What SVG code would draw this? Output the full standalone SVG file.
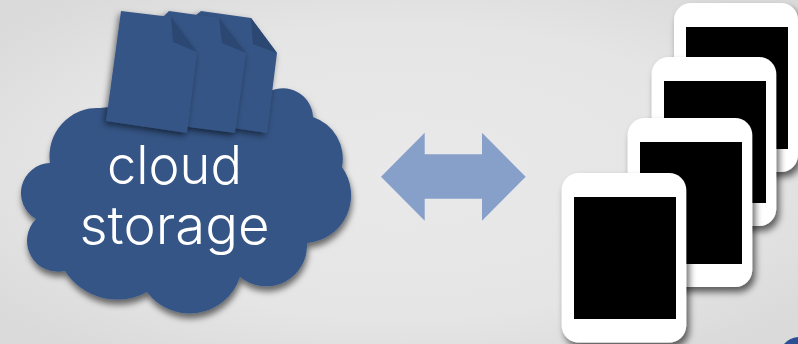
<svg xmlns="http://www.w3.org/2000/svg" width="798" height="344" viewBox="0 0 798 344">
<defs>
<radialGradient id="bg" cx="50%" cy="50%" r="65%"><stop offset="0" stop-color="#e9e9e9"/><stop offset="0.65" stop-color="#e5e5e5"/><stop offset="1" stop-color="#dadada"/></radialGradient>
<filter id="sh" x="-15%" y="-15%" width="135%" height="135%"><feDropShadow dx="3" dy="5" stdDeviation="3.500" flood-color="#000" flood-opacity="0.6"/></filter>
<filter id="shc" x="-15%" y="-15%" width="135%" height="135%"><feDropShadow dx="1" dy="5" stdDeviation="3" flood-color="#000" flood-opacity="0.55"/></filter>
<filter id="sh2" x="-15%" y="-15%" width="135%" height="135%"><feDropShadow dx="-2" dy="3" stdDeviation="3" flood-color="#000" flood-opacity="0.5"/></filter>
</defs>
<style>
.blue{fill:#355586}
.fold{fill:#2b4772}
.case{fill:#fff;filter:url(#sh)}
.screen{fill:#000}
.label{font-family:"Inter","Liberation Sans",sans-serif;font-weight:300;font-size:53px;fill:#fff;text-anchor:middle}
</style>
<rect width="798" height="344" fill="url(#bg)"/>
<path d="M784 344Q789 338 798 337V344Z" fill="#2a4f95"/>
<g id="cloud">
<path class="blue" filter="url(#shc)" d="M50 163A48 48 0 0 1 100 108L273 90A30 30 0 0 1 313 117A44 44 0 0 1 342 167A48 48 0 0 1 307 243A41 41 0 0 1 240 277A53 53 0 0 1 147 292A62 62 0 0 1 65 271A31 31 0 0 1 36 219A30 30 0 0 1 50 163Z"/>
<text class="label" x="174.500" y="184" textLength="135" lengthAdjust="spacingAndGlyphs">cloud</text>
<text class="label" x="174.500" y="244" textLength="190" lengthAdjust="spacingAndGlyphs">storage</text>
</g>
<g id="doc3">
<path class="blue" filter="url(#sh2)" d="M201 11L251 18L277 53L267 133L180 120L190 20Z"/>
<path class="fold" d="M251 18L253 44L277 53Z"/>
</g>
<g id="doc2">
<path class="blue" filter="url(#sh2)" d="M169 11L219 18L246 53L235 133L150 122L160 20Z"/>
<path class="fold" d="M219 18L222 43L246 53Z"/>
</g>
<g id="doc1">
<path class="blue" filter="url(#sh2)" d="M121 11L171 17L197 52L187 133L106 121Z"/>
<path class="fold" d="M171 17L173 42L197 52Z"/>
</g>
<g id="connectors">
<path fill="#87a0ca" d="M381 176.700L424.700 132.700V154.300H482V132.700L525.700 176.700L482 220.700V198.700H424.700V220.700Z"/>
</g>
<g id="tablet4"><rect class="case" x="674" y="3" width="124" height="169" rx="17"/><rect class="screen" x="686" y="27" width="102" height="122"/></g>
<g id="tablet3"><rect class="case" x="651.700" y="57" width="124.500" height="169" rx="17"/><rect class="screen" x="664" y="81" width="102" height="122"/></g>
<g id="tablet2"><rect class="case" x="627.700" y="118" width="124.500" height="169" rx="17"/><rect class="screen" x="640" y="142" width="102" height="122"/></g>
<g id="tablet1"><rect class="case" x="561.700" y="173" width="124.500" height="169.500" rx="17"/><rect class="screen" x="574" y="197" width="102" height="122"/></g>
</svg>
